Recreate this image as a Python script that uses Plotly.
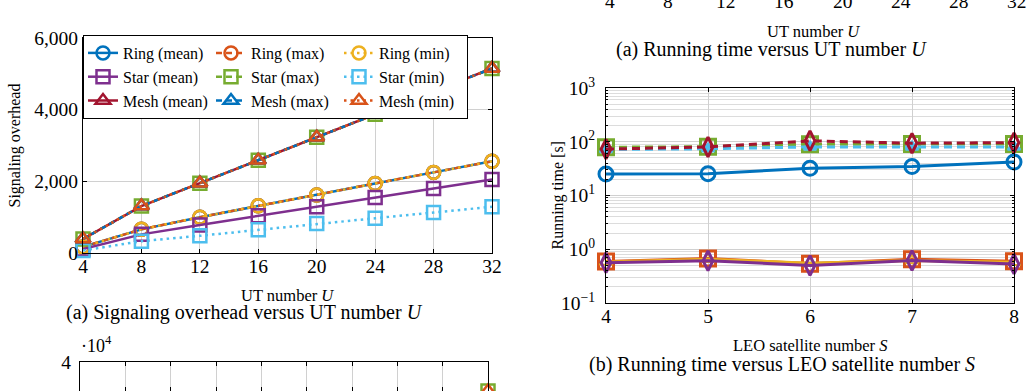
import plotly.graph_objects as go

W, H = 1033, 391
FONT = "Liberation Serif, Times New Roman, serif"

# ---------------- (a) Signaling overhead versus UT number U ----------------
ut_number = [4, 8, 12, 16, 20, 24, 28, 32]
ring_mean = [170, 660, 1000, 1320, 1620, 1940, 2250, 2560]
ring_max = [170, 660, 1000, 1320, 1620, 1940, 2250, 2560]
ring_min = [170, 660, 1000, 1320, 1620, 1940, 2250, 2560]
star_mean = [110, 520, 780, 1040, 1290, 1550, 1800, 2050]
star_max = [390, 1310, 1950, 2590, 3230, 3870, 4510, 5150]
star_min = [70, 330, 480, 650, 820, 970, 1130, 1290]
mesh_mean = [390, 1310, 1950, 2590, 3230, 3870, 4510, 5150]
mesh_max = [390, 1310, 1950, 2590, 3230, 3870, 4510, 5150]
mesh_min = [390, 1310, 1950, 2590, 3230, 3870, 4510, 5150]
overhead_tickvals = [0, 2000, 4000, 6000]
overhead_ticktext = ["0", "2,000", "4,000", "6,000"]

# ---------------- (b) Running time versus LEO satellite number S ----------------
sat_number = [4, 5, 6, 7, 8]
rt_blue = [25, 25.5, 32, 34.5, 42]
rt_red = [73, 80, 104, 94, 96]
rt_green = [79, 81, 90, 91, 91]
rt_cyan = [72, 74, 80, 80, 80]
rt_orange = [0.59, 0.67, 0.54, 0.65, 0.60]
rt_yellow = [0.58, 0.65, 0.55, 0.62, 0.57]
rt_purple = [0.56, 0.61, 0.50, 0.62, 0.53]
runtime_tickvals = [0.1, 1, 10, 100, 1000]
runtime_ticktext = ["10<sup>−1</sup>", "10<sup>0</sup>", "10<sup>1</sup>",
                    "10<sup>2</sup>", "10<sup>3</sup>"]
runtime_minor = [m * d for d in [0.1, 1, 10, 100] for m in range(2, 10)]

# ---------------- cut-off figure above (only its x tick labels show) ----------------
top_ut_ticks = [4, 8, 12, 16, 20, 24, 28, 32]

# ---------------- cut-off figure below (only its top strip shows) ----------------
bottom_ticks = [1, 2, 3, 4, 5, 6, 7, 8, 9, 10]
bottom_x = [10]
bottom_star_max = [34560]
bottom_mesh_min = [34560]

BLUE, ORANGE, YELLOW = "#0072BD", "#D95319", "#EDB120"
PURPLE, GREEN, CYAN, RED = "#7E2F8E", "#77AC30", "#4DBEEE", "#A2142F"
DASH = "6px,4px"
DOT = "2.5px,4px"


def px(x):
    return x / W


def py(y):
    return 1 - y / H


fig = go.Figure()

series_a = [
    ("Ring (mean)", ring_mean, BLUE, "solid", "circle-open", "mean"),
    ("Ring (max)", ring_max, ORANGE, DASH, "circle-open", "max"),
    ("Ring (min)", ring_min, YELLOW, DOT, "circle-open", "min"),
    ("Star (mean)", star_mean, PURPLE, "solid", "square-open", "mean"),
    ("Star (max)", star_max, GREEN, DASH, "square-open", "max"),
    ("Star (min)", star_min, CYAN, DOT, "square-open", "min"),
    ("Mesh (mean)", mesh_mean, RED, "solid", "triangle-up-open", "mean"),
    ("Mesh (max)", mesh_max, BLUE, DASH, "triangle-up-open", "max"),
    ("Mesh (min)", mesh_min, ORANGE, DOT, "triangle-up-open", "min"),
]
for name, vals, col, dash, sym, grp in series_a:
    fig.add_trace(go.Scatter(
        x=ut_number, y=vals, name=name, legendgroup=grp,
        mode="lines+markers", cliponaxis=False,
        line=dict(color=col, width=2.5, dash=dash),
        marker=dict(symbol=sym, size=13, color=col, line=dict(width=2.5, color=col)),
        xaxis="x", yaxis="y",
    ))

series_b = [
    (rt_blue, BLUE, "solid", "circle-open", 14, 3),
    (rt_green, GREEN, "8px,5px", "square-open", 15, 3),
    (rt_cyan, CYAN, "8px,5px", "triangle-up", 11, 2),
    (rt_red, RED, "8px,5px", "diamond-tall-open", 14, 3),
    (rt_orange, ORANGE, "solid", "square-open", 15, 3),
    (rt_yellow, YELLOW, "solid", "triangle-up-open", 11, 2),
    (rt_purple, PURPLE, "solid", "diamond-tall-open", 14, 3),
]
for vals, col, dash, sym, size, lw in series_b:
    fig.add_trace(go.Scatter(
        x=sat_number, y=vals, showlegend=False, mode="lines+markers",
        cliponaxis=False,
        line=dict(color=col, width=3, dash=dash),
        marker=dict(symbol=sym, size=size, color=col, line=dict(width=lw, color=col)),
        xaxis="x2", yaxis="y2",
    ))

for vals, col, sym in [(bottom_star_max, GREEN, "square-open"),
                       (bottom_mesh_min, ORANGE, "triangle-up-open")]:
    fig.add_trace(go.Scatter(
        x=bottom_x, y=vals, showlegend=False, mode="markers", cliponaxis=False,
        marker=dict(symbol=sym, size=13, color=col, line=dict(width=2.5, color=col)),
        xaxis="x3", yaxis="y3",
    ))

axis_common = dict(
    showline=True, linecolor="black", linewidth=1, mirror="allticks",
    ticks="inside", ticklen=4, tickcolor="black", zeroline=False,
    showgrid=True, gridcolor="#d0d0d0", gridwidth=1, automargin=False,
    tickfont=dict(family=FONT, size=19.5, color="black"),
)

annotations = []


def note(text, x, y, size=16, angle=0, xanchor="center", yanchor="middle"):
    annotations.append(dict(
        text=text, x=x, y=y, xref="paper", yref="paper", showarrow=False,
        textangle=angle, xanchor=xanchor, yanchor=yanchor,
        font=dict(family=FONT, size=size, color="black"),
    ))


note("UT number <i>U</i>", px(287), py(295), 16.5)
note("Signaling overhead", px(14), py(145.5), 16, angle=-90)
note("(a) Signaling overhead versus UT number <i>U</i>", px(244), py(312), 20)
note("LEO satellite number <i>S</i>", px(810), py(345), 16.5)
note("Running time [s]", px(557), py(195.5), 16, angle=-90)
note("(b) Running time versus LEO satellite number <i>S</i>", px(782), py(364), 20)
note("UT number <i>U</i>", px(813), py(31), 16.5)
note("(a) Running time versus UT number <i>U</i>", px(771), py(50), 20)
# tick labels of the cut-off axis above (axis spans 610..1017 px for U = 4..32)
for t in top_ut_ticks:
    note(str(t), px(610 + (t - top_ut_ticks[0]) * (1017 - 610) /
                    (top_ut_ticks[-1] - top_ut_ticks[0])), py(1), 19.5)
note("·10<sup>4</sup>", px(79), py(358), 18, xanchor="left", yanchor="bottom")

fig.update_layout(
    template="none",
    width=W, height=H, autosize=False,
    margin=dict(l=0, r=0, t=0, b=0, pad=0, autoexpand=False),
    paper_bgcolor="white", plot_bgcolor="rgba(0,0,0,0)",
    font=dict(family=FONT, color="black"),
    xaxis=dict(axis_common, domain=[px(83), px(492)], anchor="y", range=[4, 32],
               tickvals=ut_number, ticklabelstandoff=-4),
    yaxis=dict(axis_common, domain=[py(253), py(38)], anchor="x", range=[0, 6000],
               tickvals=overhead_tickvals, ticktext=overhead_ticktext,
               ticklabelstandoff=0),
    xaxis2=dict(axis_common, domain=[px(606), px(1014)], anchor="y2", range=[4, 8],
                tickvals=sat_number, ticklabelstandoff=-4),
    yaxis2=dict(axis_common, type="log", domain=[py(303), py(88)], anchor="x2",
                range=[-1, 3], tickvals=runtime_tickvals, ticktext=runtime_ticktext,
                ticklabelstandoff=6,
                minor=dict(tickvals=runtime_minor, ticks="inside", ticklen=2,
                           tickcolor="black", showgrid=True, gridcolor="#dcdcdc",
                           gridwidth=1)),
    xaxis3=dict(axis_common, domain=[px(80), px(488)], anchor="y3", range=[1, 10],
                tickvals=bottom_ticks, showticklabels=False),
    yaxis3=dict(axis_common, domain=[0, py(361.7)], anchor="x3",
                range=[34550, 40000], tickvals=[40000], ticktext=["4"],
                showgrid=False, ticklabelstandoff=4),
    legend=dict(
        x=px(83), y=py(35), xanchor="left", yanchor="top",
        orientation="h", bgcolor="white", bordercolor="black", borderwidth=1,
        font=dict(family=FONT, size=16, color="black"), tracegroupgap=0,
        itemsizing="trace", entrywidth=83,
    ),
    annotations=annotations,
)

fig.write_html("out.html")
